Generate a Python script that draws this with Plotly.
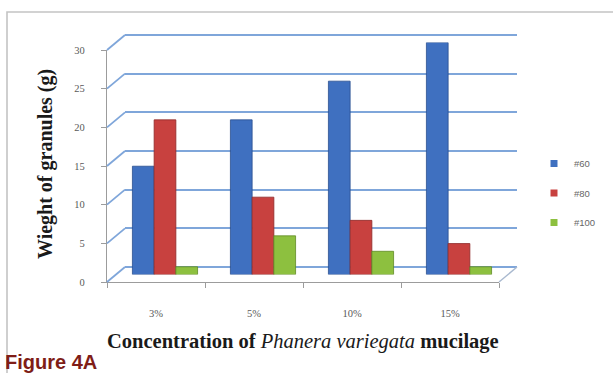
import plotly.graph_objects as go

# ---- data ----
categories = ["3%", "5%", "10%", "15%"]
series_names = ["#60", "#80", "#100"]
mesh60 = [14, 20, 25, 30]
mesh80 = [20, 10, 7, 4]
mesh100 = [1, 5, 3, 1]
y_ticks = [0, 5, 10, 15, 20, 25, 30]

colors = ["#3F70C0", "#C8413F", "#8DC03F"]
edge_colors = ["#2A4F8F", "#8E2A28", "#5F8A25"]

W, H = 613, 373


def fx(p):
    return p / W


def fy(p):
    return (H - p) / H


# front frame (pixels)
FL, FR, FB, FT = 107, 499, 282, 50
DX, DY = 18, 15  # depth offset of the back wall
YMAX = 30.0
PPU = (FB - FT) / YMAX  # pixels per unit
PAD = 0.4  # small padding so the edge gridlines are kept


def front_y(v):
    """paper fraction of value v on the front y axis"""
    return fy(FB) + v / YMAX * (fy(FT) - fy(FB))


fig = go.Figure()

# invisible trace so the back-wall subplot (gridlines) is rendered
fig.add_trace(go.Scatter(x=categories, y=[None] * len(categories), xaxis="x", yaxis="y",
                         mode="markers", showlegend=False, hoverinfo="skip"))

# bars drawn at mid-depth (x2/y2)
for name, vals, c, ec in zip(series_names, [mesh60, mesh80, mesh100], colors, edge_colors):
    fig.add_trace(go.Bar(
        x=categories, y=vals, name=name, xaxis="x2", yaxis="y2",
        marker=dict(color=c, line=dict(color=ec, width=0.8)),
        showlegend=False,
    ))

# legend entries (square markers)
for name, c in zip(series_names, colors):
    fig.add_trace(go.Scatter(
        x=[None], y=[None], mode="markers", name=name, xaxis="x3", yaxis="y3",
        marker=dict(symbol="square", size=7, color=c),
        legendgroup=name, showlegend=True,
    ))

cat_range = [-0.5, len(categories) - 0.5]
tick_font = dict(family="Liberation Serif", size=10.5, color="#595959")

fig.update_layout(
    width=W, height=H, autosize=False,
    margin=dict(l=0, r=0, t=0, b=0, pad=0, autoexpand=False),
    paper_bgcolor="white", plot_bgcolor="rgba(0,0,0,0)",
    barmode="group", bargap=0.335, bargroupgap=0,
    # back wall (gridlines)
    xaxis=dict(domain=[fx(FL + DX), fx(FR + DX)], range=cat_range, visible=False,
               type="category", categoryarray=categories, anchor="y"),
    yaxis=dict(domain=[fy(FB - DY + PAD * PPU), fy(FT - DY - PAD * PPU)],
               range=[-PAD, YMAX + PAD], tickvals=y_ticks,
               showgrid=True, gridcolor="#7FA6DA", gridwidth=1.8, zeroline=False,
               showticklabels=False, showline=False, anchor="x"),
    # mid depth (bars)
    xaxis2=dict(domain=[fx(FL + DX / 2), fx(FR + DX / 2)], range=cat_range, visible=False,
                type="category", categoryarray=categories, anchor="y2"),
    yaxis2=dict(domain=[fy(FB - DY / 2), fy(FT - DY / 2)], range=[0, YMAX], visible=False,
                anchor="x2"),
    # front (axes, ticks, labels)
    xaxis3=dict(domain=[fx(FL), fx(FR)], range=cat_range, type="category",
                categoryarray=categories, anchor="y3",
                showline=True, linecolor="#9C9C9C", linewidth=1.2,
                ticks="outside", tickson="boundaries", ticklen=5, tickcolor="#9C9C9C",
                showgrid=False, zeroline=False, ticklabelstandoff=21,
                tickfont=tick_font),
    yaxis3=dict(domain=[fy(FB), fy(FT)], range=[0, YMAX + 0.0001], tickvals=y_ticks,
                anchor="x3",
                showline=True, linecolor="#9C9C9C", linewidth=1.2,
                ticks="outside", ticklen=5, tickcolor="#9C9C9C",
                showgrid=False, zeroline=False, ticklabelstandoff=14,
                tickfont=tick_font),
    legend=dict(x=fx(534), y=fy(149), xanchor="left", yanchor="top",
                font=dict(family="Liberation Sans", size=9.5, color="#666666"),
                tracegroupgap=10.5, itemwidth=30, bgcolor="rgba(0,0,0,0)"),
)

shapes = []
# diagonal connectors from the front y-axis to the back wall gridlines
for v in y_ticks:
    shapes.append(dict(type="line", xref="paper", yref="paper",
                       xsizemode="pixel", xanchor=fx(FL), x0=0, x1=DX,
                       ysizemode="pixel", yanchor=front_y(v), y0=0, y1=DY,
                       line=dict(color="#7FA6DA", width=1.8)))
# right edge of the floor
shapes.append(dict(type="line", xref="paper", yref="paper",
                   xsizemode="pixel", xanchor=fx(FR), x0=0, x1=DX,
                   ysizemode="pixel", yanchor=front_y(0), y0=0, y1=DY,
                   line=dict(color="#A9B9CF", width=1.4)))
# chart border
shapes.append(dict(type="rect", xref="paper", yref="paper",
                   x0=fx(7), x1=fx(W + 10), y0=fy(H + 10), y1=fy(12),
                   line=dict(color="#C4C4C4", width=1.6), fillcolor="rgba(0,0,0,0)",
                   layer="below"))
fig.update_layout(shapes=shapes)

fig.add_annotation(text="<b>Wieght of granules (g)</b>", xref="paper", yref="paper",
                   x=fx(46), y=fy(164), xanchor="center", yanchor="middle",
                   textangle=-90, showarrow=False,
                   font=dict(family="Liberation Serif", size=20, color="#1a1a1a"))
fig.add_annotation(text="<b>Concentration of</b> <i>Phanera variegata</i> <b>mucilage</b>",
                   xref="paper", yref="paper", x=fx(303), y=fy(341),
                   xanchor="center", yanchor="middle", showarrow=False,
                   font=dict(family="Liberation Serif", size=20.5, color="#1a1a1a"))
fig.add_annotation(text="<b>Figure 4A</b>", xref="paper", yref="paper",
                   x=fx(3), y=fy(349), xanchor="left", yanchor="top", showarrow=False,
                   font=dict(family="Liberation Sans", size=20, color="#7F1D17"))

fig.write_html("out.html", config=dict(displayModeBar=False),
               post_script="document.body.style.margin='0px';")
